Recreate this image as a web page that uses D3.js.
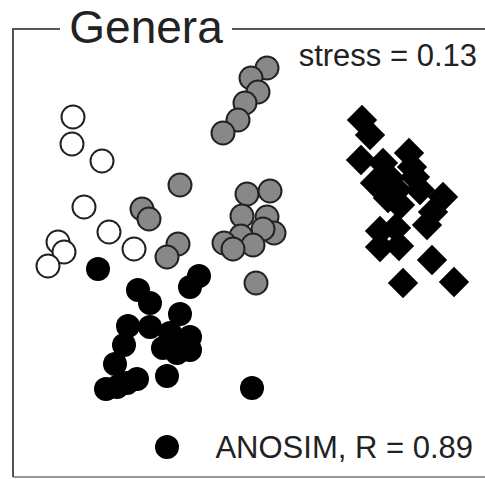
<!DOCTYPE html>
<html lang="en">
<head>
<meta charset="UTF-8">
<title>Genera NMDS</title>
<script src="https://d3js.org/d3.v7.min.js"></script>
<style>
  body { margin: 0; background: #fff; }
  text { font-family: "Liberation Sans", Arial, sans-serif; fill: #222; }
</style>
</head>
<body>
<div id="chart"></div>
<script>
// ordination coordinates (arbitrary units)
var openPts = [[60,360],[59,333],[89,316],[71,270],[96,245],[45,235],[51,225],[35,211],[121,228]];
var grayPts = [[254,409],[238,399],[245,385],[232,374],[225,357],[210,344],
    [167,292],[129,268],[136,258],[165,233],[154,220],[234,283],[257,286],[229,261],
    [254,260],[261,244],[250,248],[228,241],[240,232],[211,234],[220,228],[243,194]];
var blackPts = [[85,208],[125,187],[137,174],[186,201],[177,190],[167,163],[115,151],
    [137,150],[111,132],[177,140],[150,129],[164,124],[177,127],[157,144],[165,134],
    [102,113],[124,98],[114,94],[93,88],[104,90],[154,101],[239,89],[154,30]];
var diamondPts = [[349,357],[357,342],[348,317],[370,314],[396,324],[399,310],[362,294],
    [377,299],[384,287],[375,279],[402,300],[387,272],[407,287],[430,280],[420,265],
    [414,252],[367,246],[383,249],[367,230],[386,231],[419,217],[390,194],[441,195]];
var title = "Genera";
var stressLabel = "stress = 0.13";
var anosimLabel = "ANOSIM, R = 0.89";

var W = 485, H = 479;
var box = {left: 13, top: 29, right: 485, bottom: 477};

var svg = d3.select("#chart").append("svg")
    .attr("width", W).attr("height", H);

var x = d3.scaleLinear().domain([0, 472]).range([box.left, box.right]);
var y = d3.scaleLinear().domain([0, 448]).range([box.bottom, box.top]);

// frame
svg.append("line").attr("x1", box.left).attr("x2", box.right)
    .attr("y1", box.bottom).attr("y2", box.bottom)
    .attr("stroke", "#999").attr("stroke-width", 2);
svg.append("path")
    .attr("d", "M" + 60 + "," + box.top + "H" + box.left + "V" + box.bottom)
    .attr("fill", "none").attr("stroke", "#555").attr("stroke-width", 2);
svg.append("line").attr("x1", 232).attr("x2", box.right)
    .attr("y1", box.top).attr("y2", box.top)
    .attr("stroke", "#555").attr("stroke-width", 2);

svg.append("text").attr("x", 146).attr("y", 43)
    .attr("text-anchor", "middle").style("font-size", "46px").text(title);

var r = 11.5;

svg.append("g").selectAll("circle").data(blackPts).enter().append("circle")
    .attr("cx", function(d) { return x(d[0]); })
    .attr("cy", function(d) { return y(d[1]); })
    .attr("r", r + 0.5).attr("fill", "#000");

svg.append("g").selectAll("circle").data(openPts).enter().append("circle")
    .attr("cx", function(d) { return x(d[0]); })
    .attr("cy", function(d) { return y(d[1]); })
    .attr("r", r).attr("fill", "#fff")
    .attr("stroke", "#222").attr("stroke-width", 2);

svg.append("g").selectAll("circle").data(grayPts).enter().append("circle")
    .attr("cx", function(d) { return x(d[0]); })
    .attr("cy", function(d) { return y(d[1]); })
    .attr("r", r).attr("fill", "#888")
    .attr("stroke", "#222").attr("stroke-width", 2);

var sq = d3.symbol().type(d3.symbolSquare).size(460);
svg.append("g").selectAll("path").data(diamondPts).enter().append("path")
    .attr("d", sq)
    .attr("transform", function(d) { return "translate(" + x(d[0]) + "," + y(d[1]) + ") rotate(45)"; })
    .attr("fill", "#000");

svg.append("text").attr("x", 477).attr("y", 66)
    .attr("text-anchor", "end").style("font-size", "31px").text(stressLabel);

svg.append("text").attr("x", 473).attr("y", 458)
    .attr("text-anchor", "end").style("font-size", "31px").text(anosimLabel);
</script>
</body>
</html>
